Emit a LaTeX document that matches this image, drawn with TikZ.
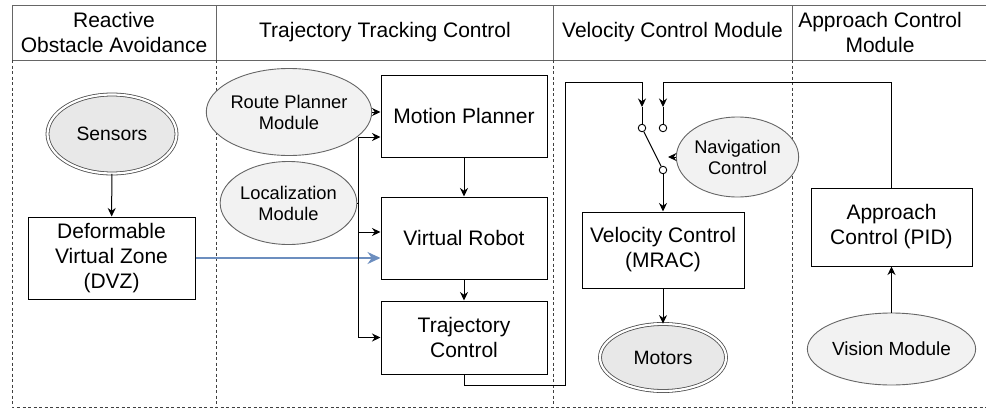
\documentclass[tikz,border=0pt]{standalone}
\usepackage{fontspec}
\setmainfont{Liberation Sans}
\usepackage{xcolor}
\usetikzlibrary{arrows.meta, shapes.geometric}

\definecolor{modfill}{HTML}{F2F2F2}
\definecolor{devfill}{HTML}{E8E8E8}
\definecolor{modline}{HTML}{666666}
\definecolor{dvzblue}{HTML}{6C8EBF}

\begin{document}
\begin{tikzpicture}[
  x=1pt, y=-1pt,
  box/.style={draw, line width=1pt, minimum width=166pt, minimum height=82pt, align=center, inner sep=2pt, font=\fontsize{21}{25}\selectfont},
  module/.style={ellipse, draw=modline, fill=modfill, line width=0.9pt, align=center, inner sep=0pt, font=\fontsize{18.3}{21}\selectfont},
  device/.style={module, draw=black!70, fill=devfill, double, double distance=2.2pt, line width=0.8pt, font=\fontsize{19.3}{22}\selectfont},
  contact/.style={circle, draw, fill=white, line width=0.9pt, inner sep=0pt, minimum size=7.5pt},
  head/.style={align=center, font=\fontsize{21}{25}\selectfont},
  headline/.style={draw=black!60, line width=1pt},
  lane/.style={draw=black!75, line width=0.9pt, dash pattern=on 3pt off 2.5pt},
  link/.style={draw, line width=1pt, -{Stealth[length=8.5pt, width=8pt]}},
  wire/.style={draw, line width=1pt},
  feed/.style={draw=dvzblue, line width=1.8pt, -{Stealth[length=13pt, width=12pt]}}
]
  \useasboundingbox (0,0) rectangle (986,410);

  \draw[headline] (12,5) rectangle (995,60);
  \draw[headline] (216,5) -- (216,60) (553,5) -- (553,60) (792,5) -- (792,60);
  \draw[lane] (12,60) -- (12,407) -- (995,407);
  \draw[lane] (216,60) -- (216,407);
  \draw[lane] (553,60) -- (553,407);
  \draw[lane] (792,60) -- (792,407);

  \node[head] (hreact) at (114,32) {Reactive\\Obstacle Avoidance};
  \node[head] (htrack) at (385,32) {Trajectory Tracking Control};
  \node[head] (hvelo) at (672.5,32) {Velocity Control Module};
  \node[head] (happ) at (880,32) {Approach Control\\Module};

  \node[device, minimum width=129pt, minimum height=79pt] (sensors) at (112,134) {Sensors};
  \node[box, minimum width=167pt] (dvz) at (111.5,258) {Deformable\\Virtual Zone\\(DVZ)};

  \node[module, minimum width=142pt, minimum height=87pt] (route) at (289,112) {Route Planner\\Module};
  \node[module, minimum width=119pt, minimum height=83pt] (loc) at (288.5,203) {Localization\\Module};
  \node[box] (motion) at (464,116) {Motion Planner};
  \node[box] (vrobot) at (464,238) {Virtual Robot};
  \node[box, minimum height=73pt] (track) at (464,337.5) {Trajectory\\Control};

  \node[contact] (swa) at (642,128) {};
  \node[contact] (swb) at (663,128) {};
  \node[contact] (swc) at (663,170) {};
  \node[module, minimum width=107pt, minimum height=80pt] (nav) at (737.5,157) {Navigation\\Control};
  \node[box, minimum width=162pt, minimum height=76pt] (velo) at (663,250) {Velocity Control\\(MRAC)};
  \node[device, minimum width=126pt, minimum height=67pt] (motors) at (663,357.5) {Motors};

  \node[box, minimum width=161pt, minimum height=78pt] (approach) at (891.5,227) {Approach\\Control (PID)};
  \node[module, minimum width=131pt, minimum height=72pt, font=\fontsize{19}{22}\selectfont] (vision) at (891.5,349) {Vision Module};

  \coordinate (bus) at (358,0);
  \coordinate (loopA) at (565,385);
  \coordinate (loopB) at (565,82);
  \coordinate (swaIn) at (642,107);
  \coordinate (swbTop) at (663,82);
  \coordinate (swbIn) at (663,107);
  \coordinate (lever) at (668,157);

  \draw[link] (sensors) -- (dvz);
  \draw[feed] (dvz.east) -- (dvz.east -| vrobot.west);

  \draw[link] (route.east) -- (route.east -| motion.west);
  \draw[wire] (loc.east) -- (loc.east -| bus);
  \draw[link] (loc.east -| bus) |- ([yshift=-21pt]motion.west);
  \draw[link] (loc.east -| bus) |- ([yshift=6pt]vrobot.west);
  \draw[link] (loc.east -| bus) |- (track.west);
  \draw[link] (motion) -- (vrobot);
  \draw[link] (vrobot) -- (track);

  \draw[link] (track.south) |- (loopA) -- (loopB) -| (swaIn);
  \draw[wire] (swaIn) -- (swa);
  \draw[link] (approach.north) |- (swbTop) -- (swbIn);
  \draw[wire] (swbIn) -- (swb);
  \draw[wire] (swa) -- (swc);
  \draw[link] (nav.west) -- (lever);
  \draw[link] (swc) -- (velo);
  \draw[link] (velo) -- (motors);

  \draw[link] (vision) -- (approach);
\end{tikzpicture}
\end{document}
